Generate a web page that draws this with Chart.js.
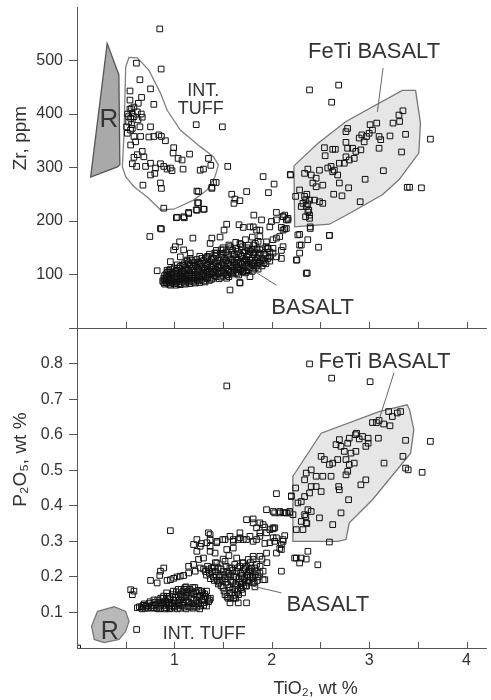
<!DOCTYPE html>
<html>
<head>
<meta charset="utf-8">
<script src="https://cdn.jsdelivr.net/npm/chart.js@4.4.1/dist/chart.umd.min.js"></script>
<style>
  html, body { margin: 0; padding: 0; background: #fff; }
  #wrap { position: relative; width: 491px; height: 700px; }
  canvas { position: absolute; left: 0; }
  #zrChart { top: 0; }
  #pChart { top: 320px; }
</style>
</head>
<body>
<div id="wrap">
  <canvas id="zrChart" width="491" height="336"></canvas>
  <canvas id="pChart" width="491" height="380"></canvas>
</div>
<script>
// ---- tick labels ----
const xTickLabels = [1, 2, 3, 4];
const zrTickLabels = [100, 200, 300, 400, 500];
const pTickLabels = [0.1, 0.2, 0.3, 0.4, 0.5, 0.6, 0.7, 0.8];

// ---- Zr vs TiO2 : [TiO2, Zr] ----
const zrTuff = [
  [0.85,559],[0.864,484],[0.61,495],[0.646,464],[0.755,447],[0.544,443],[0.789,418],[0.663,431],[0.544,426],
  [0.629,420],[0.585,413],[0.544,409],[0.568,401],[0.619,404],[0.66,400],[0.551,392],[0.585,395],[0.626,389],
  [0.67,394],[0.51,376],[0.568,373],[0.646,376],[0.755,376],[0.517,364],[0.585,358],[0.653,358],[0.738,357],
  [0.789,358],[0.84,361],[0.867,358],[0.908,350],[0.551,342],[0.602,348],[0.993,337],[0.619,324],[0.67,330],
  [0.585,319],[0.687,320],[0.987,327],[1.038,317],[1.079,314],[1.156,325],[0.568,307],[0.612,302],[0.704,302],
  [0.755,308],[0.806,299],[0.857,307],[0.891,302],[0.925,297],[0.959,299],[0.976,294],[1.089,297],[1.265,295],
  [1.299,297],[1.35,317],[1.374,304],[0.755,286],[0.799,289],[0.857,271],[0.867,261],[0.677,267],[1.248,255],
  [1.429,272],[1.385,261],[1.548,302],[1.224,380],[1.493,376],[0.891,224],[1.028,207],[1.095,208],[1.146,216],
  [1.232,220],[1.306,222],[1.248,234],[0.857,186],[0.748,171],[0.867,185],[0.52,400],[0.53,385],[0.56,380],
  [0.53,395],[0.56,410],[0.55,370]
];
const zrBasalt = [
  [1.401,272],[1.385,263],[1.231,256],[1.238,234],[1.224,221],[1.299,222],[1.02,206],[1.102,206],[1.146,214],
  [1.589,250],[1.622,241],[1.673,238],[1.612,233],[1.742,255],[1.911,283],[2.024,269],[1.966,253],[2.194,286],
  [1.816,211],[1.895,202],[1.997,199],[2.048,216],[2.133,211],[2.15,202],[2.099,188],[2.133,185],[2.268,174],
  [2.303,155],[2.252,127],[2.354,102],[2.286,140],[2.048,168],[2.099,145],[2.013,149],[1.946,161],[1.878,171],
  [1.844,183],[1.776,189],[1.707,188],[1.664,193],[1.537,194],[1.51,183],[1.469,170],[1.385,168],[1.367,158],
  [1.19,168],[1.054,161],[1.01,152],[0.993,146],[1.095,146],[1.163,140],[1.061,133],[1.129,127],[0.959,124],
  [0.925,108],[0.891,93],[0.976,87],[1.078,93],[1.197,93],[1.299,102],[1.401,105],[1.537,93],[1.673,85],
  [1.571,71],[1.707,105],[1.64,118],[1.776,115],[1.878,121],[1.98,133],[1.759,146],[1.673,158],[1.571,152],
  [1.503,146],[1.436,140],[1.334,133],[1.265,121],[1.197,115],[1.112,108],[1.027,102],[2.395,186],[2.37,165],
  [2.286,155],[2.48,151],[2.592,173],[2.258,127],[2.364,103],[2.116,183],[1.81,189],[1.878,183],[1.98,189],
  [2.048,202],[2.116,208],[2.167,202],[2.013,165],[2.082,171],[2.116,152],[2.013,140],[1.962,149],[1.878,146],
  [1.81,140],[1.911,127],[1.742,127],[2.048,133],[2.099,130],[1.776,96],[1.673,84],[0.823,107],[0.891,85]
];
const zrBasaltCore = [
  [0.90,82],[0.90,90],[0.90,98],[0.93,85],[0.93,95],[0.93,104],[0.96,80],[0.96,88],[0.96,100],[0.96,110],
  [1.00,83],[1.00,92],[1.00,101],[1.00,112],[1.03,86],[1.03,96],[1.03,108],[1.03,118],[1.06,81],[1.06,90],
  [1.06,99],[1.06,115],[1.10,84],[1.10,94],[1.10,105],[1.10,120],[1.13,88],[1.13,98],[1.13,110],[1.13,125],
  [1.16,83],[1.16,93],[1.16,103],[1.16,118],[1.16,130],[1.20,86],[1.20,97],[1.20,108],[1.20,122],[1.23,90],
  [1.23,100],[1.23,114],[1.23,128],[1.26,85],[1.26,95],[1.26,106],[1.26,119],[1.26,134],[1.30,88],[1.30,99],
  [1.30,112],[1.30,126],[1.33,92],[1.33,104],[1.33,117],[1.33,131],[1.36,89],[1.36,100],[1.36,110],[1.36,124],
  [1.36,138],[1.40,93],[1.40,105],[1.40,116],[1.40,130],[1.43,96],[1.43,108],[1.43,121],[1.43,136],[1.43,145],
  [1.46,92],[1.46,103],[1.46,114],[1.46,127],[1.50,97],[1.50,110],[1.50,123],[1.50,138],[1.50,150],[1.53,100],
  [1.53,112],[1.53,126],[1.53,142],[1.56,96],[1.56,106],[1.56,118],[1.56,133],[1.56,155],[1.60,101],[1.60,114],
  [1.60,128],[1.60,145],[1.63,104],[1.63,117],[1.63,131],[1.63,148],[1.63,160],[1.66,99],[1.66,110],[1.66,123],
  [1.66,139],[1.70,106],[1.70,119],[1.70,134],[1.70,152],[1.73,103],[1.73,115],[1.73,128],[1.73,144],[1.73,165],
  [1.76,109],[1.76,122],[1.76,137],[1.76,155],[1.80,106],[1.80,118],[1.80,131],[1.80,147],[1.80,170],[1.83,112],
  [1.83,126],[1.83,141],[1.83,158],[1.86,110],[1.86,123],[1.86,138],[1.86,162],[1.90,116],[1.90,130],[1.90,148],
  [1.94,120],[1.94,135],[1.94,152],[1.98,125],[1.98,142]
];
const zrBasaltCore2 = [
  [0.88,88],[0.915,84],[0.915,93],[0.915,101],[0.945,82],[0.945,91],[0.945,99],[0.945,107],[0.975,85],[0.975,94],
  [0.975,104],[1.015,80],[1.015,88],[1.015,97],[1.015,106],[1.045,83],[1.045,92],[1.045,102],[1.045,112],[1.08,87],
  [1.08,96],[1.08,106],[1.08,117],[1.115,82],[1.115,91],[1.115,100],[1.115,113],[1.145,86],[1.145,96],[1.145,107],
  [1.145,122],[1.18,89],[1.18,99],[1.18,111],[1.18,126],[1.215,84],[1.215,93],[1.215,104],[1.215,117],[1.245,88],
  [1.245,98],[1.245,110],[1.245,123],[1.28,91],[1.28,102],[1.28,115],[1.28,130],[1.315,86],[1.315,96],[1.315,108],
  [1.315,121],[1.345,94],[1.345,106],[1.345,119],[1.345,134],[1.38,91],[1.38,103],[1.38,115],[1.38,128],[1.415,98],
  [1.415,110],[1.415,123],[1.415,140],[1.445,101],[1.445,113],[1.445,126],[1.48,95],[1.48,106],[1.48,118],[1.48,132],
  [1.48,146],[1.515,103],[1.515,116],[1.515,130],[1.545,99],[1.545,109],[1.545,121],[1.545,136],[1.58,104],[1.58,116],
  [1.58,129],[1.58,148],[1.615,108],[1.615,122],[1.615,137],[1.645,102],[1.645,114],[1.645,127],[1.645,143],[1.68,108],
  [1.68,121],[1.68,136],[1.68,156],[1.715,112],[1.715,125],[1.715,141],[1.745,107],[1.745,119],[1.745,133],[1.745,150],
  [1.78,113],[1.78,127],[1.78,143],[1.815,110],[1.815,122],[1.815,137],[1.815,155],[1.85,117],[1.85,131],[1.85,148],
  [1.88,125],[1.88,140],[1.92,122],[1.92,138],[1.96,130],[1.96,148]
];
const zrFeti = [
  [2.388,445],[2.687,454],[2.615,422],[3.629,353],[3.391,263],[3.415,263],[3.537,262],[3.347,406],[3.306,398],
  [3.313,386],[3.245,383],[3.374,362],[3.214,359],[3.102,358],[3.119,352],[3.102,336],[3.078,383],[3.01,380],
  [3.0,364],[2.973,358],[2.925,361],[2.949,348],[2.915,333],[2.864,330],[2.83,336],[2.779,336],[2.762,347],
  [2.779,373],[2.653,334],[2.626,334],[2.541,337],[2.548,322],[2.762,320],[2.796,314],[2.745,308],[2.847,317],
  [2.694,308],[2.609,302],[2.575,299],[2.49,295],[2.643,295],[2.677,286],[2.626,292],[2.694,271],[2.524,267],
  [2.456,280],[2.405,286],[2.371,297],[2.337,289],[2.422,271],[2.456,264],[2.286,258],[2.245,246],[2.337,246],
  [2.32,233],[2.388,239],[2.439,239],[2.49,236],[2.524,233],[2.303,227],[2.354,227],[2.371,217],[2.388,211],
  [2.347,208],[2.388,205],[2.19,287],[2.789,262],[2.636,250],[2.721,247],[2.908,236],[2.959,278],[3.146,294],
  [3.333,329],[2.395,189],[2.592,173],[2.286,175],[2.15,186],[2.116,208],[2.166,205],[2.762,367],[2.898,355],
  [3.034,370],[2.35,240],[2.37,232],[2.38,220],[2.36,250]
];
const rFieldZr = [[0.31,532],[0.43,473],[0.44,305],[0.415,301],[0.14,282]];
const tuffFieldZr = [
  [0.534,506],[0.619,505],[0.738,482],[0.857,439],[0.926,407],[1.061,370],[1.265,339],[1.401,320],[1.452,305],
  [1.418,283],[1.334,258],[1.197,239],[0.993,222],[0.857,221],[0.721,245],[0.585,264],[0.5,283],[0.466,301],
  [0.483,364],[0.5,488]
];
const fetiFieldZr = [
  [2.228,303],[2.472,345],[2.762,386],[3.34,444],[3.477,444],[3.527,383],[3.51,327],[3.306,277],[3.136,249],
  [2.796,214],[2.592,194],[2.235,189]
];

// ---- P2O5 vs TiO2 : [TiO2, P2O5] ----
const pTuff = [
  [0.007,0.0],[0.612,0.052],[0.551,0.164],[0.585,0.16],[0.568,0.15],[0.755,0.19],[0.823,0.183],[0.857,0.216],
  [0.891,0.225],[0.85,0.204],[0.925,0.19],[0.959,0.192],[0.993,0.196],[1.027,0.2],[1.061,0.202],[1.095,0.204],
  [0.959,0.33],[0.62,0.113],[0.66,0.115],[0.68,0.12],[0.70,0.112],[0.72,0.118],[0.74,0.125],[0.76,0.113],
  [0.78,0.12],[0.8,0.128],[0.82,0.112],[0.83,0.135],[0.85,0.118],[0.87,0.126],[0.88,0.14],[0.9,0.11],
  [0.91,0.132],[0.93,0.145],[0.94,0.12],[0.96,0.138],[0.97,0.112],[0.98,0.15],[1.0,0.127],[1.01,0.142],
  [1.02,0.158],[1.03,0.11],[1.05,0.134],[1.06,0.15],[1.07,0.165],[1.08,0.12],[1.1,0.142],[1.11,0.17],
  [1.12,0.11],[1.13,0.155],[1.15,0.128],[1.16,0.165],[1.17,0.14],[1.19,0.112],[1.2,0.152],[1.21,0.17],
  [1.22,0.125],[1.24,0.145],[1.25,0.162],[1.26,0.11],[1.28,0.135],[1.29,0.155],[1.3,0.12],[1.32,0.145],
  [1.33,0.16],[1.35,0.13],[1.37,0.14],[1.0,0.115],[1.14,0.118],[0.95,0.128],[1.09,0.158],[1.18,0.16],[1.27,0.148]
];
const pTuffCore = [
  [0.64,0.116],[0.67,0.11],[0.69,0.124],[0.71,0.118],[0.73,0.112],[0.75,0.13],[0.77,0.118],[0.79,0.112],[0.79,0.135],
  [0.81,0.122],[0.84,0.128],[0.84,0.11],[0.86,0.14],[0.86,0.112],[0.89,0.12],[0.89,0.146],[0.92,0.113],[0.92,0.125],
  [0.92,0.155],[0.95,0.145],[0.95,0.11],[0.97,0.125],[0.99,0.135],[0.99,0.16],[1.01,0.118],[1.04,0.125],[1.04,0.145],
  [1.04,0.165],[1.06,0.112],[1.07,0.138],[1.09,0.128],[1.1,0.115],[1.1,0.165],[1.12,0.135],[1.12,0.148],[1.14,0.16],
  [1.14,0.13],[1.16,0.115],[1.17,0.152],[1.18,0.125],[1.19,0.17],[1.2,0.135],[1.22,0.158],[1.23,0.115],[1.23,0.135],
  [1.25,0.125],[1.26,0.145],[1.27,0.118],[1.28,0.16],[1.3,0.138],[1.31,0.128],[1.31,0.152],[1.33,0.118],[1.34,0.14],
  [1.36,0.135],[1.12,0.172],[1.08,0.145],[0.98,0.118],[0.88,0.128],[1.05,0.12],[1.2,0.118]
];
const pBasalt = [
  [1.146,0.23],[1.197,0.235],[1.248,0.249],[1.299,0.253],[1.367,0.272],[1.418,0.267],[1.367,0.286],[1.265,0.286],
  [1.197,0.291],[1.231,0.272],[1.333,0.296],[1.436,0.296],[1.52,0.305],[1.605,0.3],[1.673,0.31],[1.741,0.305],
  [1.809,0.3],[1.878,0.314],[1.946,0.324],[2.014,0.335],[1.911,0.347],[1.809,0.352],[1.741,0.361],[1.844,0.338],
  [1.98,0.296],[2.048,0.31],[2.099,0.291],[2.099,0.216],[2.133,0.316],[2.15,0.38],[1.946,0.389],[2.014,0.384],
  [2.082,0.384],[2.218,0.375],[1.35,0.324],[1.538,0.277],[1.605,0.281],[1.64,0.253],[1.707,0.239],[1.758,0.249],
  [1.809,0.258],[1.844,0.235],[1.911,0.216],[1.929,0.192],[1.827,0.172],[1.52,0.244],[1.436,0.239],[1.265,0.225],
  [1.214,0.216],[1.146,0.211],[1.538,0.737],[1.231,0.305],[1.276,0.294],[1.367,0.305],[1.436,0.3],[1.497,0.305],
  [1.571,0.314],[1.605,0.305],[1.656,0.305],[1.367,0.319],[1.673,0.324],[1.571,0.127],[1.656,0.127],[2.048,0.434],
  [2.201,0.428],[2.116,0.381],[2.184,0.38],[1.809,0.363],[1.878,0.352],[1.929,0.34],[1.98,0.333],[2.031,0.338],
  [1.878,0.324],[1.776,0.314],[1.707,0.305],[1.844,0.305],[1.929,0.294],[2.014,0.31],[2.116,0.305],[2.099,0.277],
  [2.048,0.267],[1.946,0.267],[1.878,0.258],[1.809,0.249],[1.741,0.23],[1.827,0.225],[1.878,0.211],[1.911,0.192],
  [1.809,0.183],[1.741,0.174],[2.235,0.253],[2.286,0.239],[2.371,0.272],[2.473,0.234],[1.741,0.127],[2.03,0.38],
  [2.082,0.38],[2.133,0.38],[2.184,0.384],[2.013,0.338],[2.116,0.3],[2.03,0.3],[2.082,0.28],[2.252,0.253],
  [2.303,0.253],[2.354,0.25]
];
const pBasaltCore = [
  [1.32,0.215],[1.36,0.21],[1.38,0.225],[1.4,0.2],[1.42,0.215],[1.44,0.19],[1.45,0.225],[1.47,0.205],[1.48,0.175],
  [1.5,0.215],[1.51,0.16],[1.52,0.195],[1.53,0.23],[1.54,0.145],[1.55,0.178],[1.56,0.21],[1.57,0.155],[1.58,0.19],
  [1.59,0.225],[1.6,0.165],[1.61,0.2],[1.62,0.148],[1.63,0.18],[1.64,0.215],[1.65,0.16],[1.66,0.195],[1.67,0.23],
  [1.68,0.17],[1.69,0.205],[1.7,0.185],[1.72,0.22],[1.73,0.175],[1.74,0.2],[1.76,0.215],[1.77,0.19],[1.79,0.225],
  [1.8,0.2],[1.82,0.185],[1.84,0.215],[1.86,0.2],[1.58,0.14],[1.46,0.185],[1.62,0.235],[1.7,0.24],[1.78,0.24],
  [1.88,0.23],[1.9,0.25],[1.95,0.24],[1.34,0.23],[1.42,0.24],[1.5,0.25],[1.56,0.26],
  [1.3,0.222],[1.33,0.205],[1.35,0.22],[1.37,0.195],[1.39,0.215],[1.41,0.228],[1.41,0.19],[1.43,0.205],[1.45,0.18],
  [1.46,0.2],[1.48,0.222],[1.49,0.19],[1.5,0.17],[1.51,0.205],[1.52,0.15],[1.53,0.185],[1.54,0.215],[1.55,0.14],
  [1.55,0.2],[1.57,0.17],[1.57,0.225],[1.58,0.205],[1.59,0.155],[1.6,0.185],[1.6,0.218],[1.61,0.14],[1.62,0.165],
  [1.63,0.2],[1.64,0.175],[1.65,0.225],[1.66,0.15],[1.67,0.185],[1.68,0.21],[1.69,0.165],[1.7,0.2],[1.71,0.175],
  [1.72,0.195],[1.73,0.225],[1.74,0.185],[1.75,0.205],[1.77,0.22],[1.78,0.2],[1.8,0.215],[1.81,0.195],[1.83,0.205],
  [1.85,0.19],[1.63,0.14],[1.7,0.155]
];
const pFeti = [
  [2.388,0.799],[2.615,0.759],[3.01,0.749],[3.629,0.581],[3.374,0.506],[3.401,0.501],[3.544,0.494],[3.374,0.584],
  [3.347,0.539],[3.323,0.665],[3.289,0.661],[3.238,0.651],[3.214,0.625],[3.102,0.64],[3.034,0.634],[3.075,0.634],
  [3.095,0.59],[2.99,0.59],[2.932,0.595],[2.898,0.588],[2.871,0.604],[2.796,0.59],[2.78,0.576],[2.694,0.586],
  [2.711,0.567],[2.66,0.572],[2.745,0.553],[2.813,0.548],[2.864,0.553],[2.966,0.567],[2.99,0.576],[2.762,0.53],
  [2.796,0.516],[2.847,0.52],[2.78,0.497],[2.762,0.487],[2.677,0.53],[2.626,0.52],[2.541,0.53],[2.507,0.539],
  [2.592,0.516],[2.609,0.483],[2.524,0.483],[2.456,0.483],[2.405,0.501],[2.354,0.492],[2.337,0.473],[2.456,0.454],
  [2.507,0.44],[2.405,0.454],[2.388,0.436],[2.337,0.426],[2.303,0.412],[2.269,0.408],[2.245,0.45],[2.201,0.426],
  [2.371,0.389],[2.405,0.384],[2.337,0.375],[2.303,0.356],[2.354,0.352],[2.32,0.333],[2.252,0.333],[2.49,0.366],
  [2.626,0.347],[2.711,0.38],[2.789,0.417],[2.687,0.454],[2.694,0.445],[2.915,0.459],[2.966,0.473],[3.153,0.52],
  [2.592,0.298],[3.2,0.665],[3.15,0.63],[2.86,0.6],[2.36,0.35],[2.35,0.37]
];
const rFieldP = [[0.211,0.103],[0.381,0.116],[0.5,0.103],[0.534,0.075],[0.5,0.047],[0.432,0.024],[0.279,0.015],[0.177,0.024],[0.15,0.061]];
const fetiFieldP = [
  [2.217,0.483],[2.507,0.604],[3.102,0.665],[3.391,0.684],[3.415,0.67],[3.459,0.614],[3.426,0.548],[3.034,0.417],
  [2.796,0.352],[2.762,0.305],[2.677,0.3],[2.217,0.3]
];

const FONT = '"Liberation Sans", Arial, Helvetica, sans-serif';
const INK = '#333';
const AXIS = '#555';

const toXY = arr => arr.map(([x, y]) => ({ x, y }));
const pointSet = arr => ({
  data: toXY(arr),
  pointStyle: 'rect',
  pointRadius: 4,
  borderWidth: 1,
  borderColor: '#111',
  backgroundColor: 'rgba(0,0,0,0)'
});

// draws shaded fields, leaders, labels and inward x ticks
function decor(cfg) {
  return {
    id: 'decor',
    beforeDatasetsDraw(chart) {
      const { ctx, scales: { x, y } } = chart;
      cfg.fields.forEach(f => {
        ctx.save();
        ctx.beginPath();
        f.pts.forEach(([vx, vy], i) => {
          const px = x.getPixelForValue(vx), py = y.getPixelForValue(vy);
          i ? ctx.lineTo(px, py) : ctx.moveTo(px, py);
        });
        ctx.closePath();
        if (f.fill) { ctx.fillStyle = f.fill; ctx.fill(); }
        ctx.strokeStyle = f.stroke;
        ctx.lineWidth = 1.3;
        ctx.stroke();
        ctx.restore();
      });
    },
    afterDraw(chart) {
      const { ctx, chartArea: a, scales: { x, y } } = chart;
      ctx.save();
      // inward ticks
      ctx.strokeStyle = AXIS;
      ctx.lineWidth = 1;
      x.ticks.forEach(t => {
        const px = Math.round(x.getPixelForValue(t.value)) + 0.5;
        ctx.beginPath();
        ctx.moveTo(px, a.bottom);
        ctx.lineTo(px, a.bottom - 6);
        ctx.stroke();
      });
      // leader lines
      ctx.strokeStyle = '#666';
      cfg.leaders.forEach(([x1, y1, x2, y2]) => {
        ctx.beginPath();
        ctx.moveTo(x.getPixelForValue(x1), y.getPixelForValue(y1));
        ctx.lineTo(x.getPixelForValue(x2), y.getPixelForValue(y2));
        ctx.stroke();
      });
      // labels
      ctx.fillStyle = INK;
      ctx.textAlign = 'center';
      ctx.textBaseline = 'alphabetic';
      cfg.labels.forEach(l => {
        ctx.font = l.size + 'px ' + FONT;
        ctx.fillText(l.text, x.getPixelForValue(l.x), y.getPixelForValue(l.y));
      });
      // axis titles
      ctx.textBaseline = 'middle';
      ctx.font = '19px ' + FONT;
      if (cfg.yTitle) {
        ctx.save();
        ctx.translate(a.left - 56, y.getPixelForValue(cfg.yTitle.at));
        ctx.rotate(-Math.PI / 2);
        ctx.fillText(cfg.yTitle.text, 0, 0);
        ctx.restore();
      }
      if (cfg.xTitle) {
        ctx.font = '18px ' + FONT;
        ctx.fillText(cfg.xTitle.text, x.getPixelForValue(cfg.xTitle.at), a.bottom + 41);
      }
      ctx.restore();
    }
  };
}

function makeChart(id, sets, yOpts, showX, extra) {
  return new Chart(document.getElementById(id), {
    type: 'scatter',
    data: { datasets: sets.map(pointSet) },
    options: {
      responsive: false,
      animation: false,
      events: [],
      layout: { padding: { top: showX ? 8 : 7, right: 4, bottom: showX ? 0 : 8, left: 0 } },
      plugins: { legend: { display: false }, tooltip: { enabled: false } },
      scales: {
        x: {
          type: 'linear', min: 0, max: 4.2,
          afterBuildTicks: s => { s.ticks = [0, 0.5, 1, 1.5, 2, 2.5, 3, 3.5, 4].map(v => ({ value: v })); },
          afterFit: s => { s.height = showX ? 52 : 0; s.paddingLeft = 0; s.paddingRight = 0; },
          border: { display: true, color: AXIS, width: 1 },
          grid: { display: false, drawTicks: false },
          ticks: {
            display: showX, padding: 3, color: INK, autoSkip: false, maxRotation: 0,
            font: { family: FONT, size: 16 },
            callback: v => xTickLabels.includes(v) ? String(v) : ''
          }
        },
        y: Object.assign({
          type: 'linear',
          afterFit: s => { s.width = 77; s.paddingTop = 0; s.paddingBottom = 0; },
          border: { display: true, color: AXIS, width: 1 },
          grid: { display: true, drawOnChartArea: false, drawTicks: true, tickLength: 8, color: AXIS, tickColor: AXIS },
        }, yOpts)
      }
    },
    plugins: [decor(extra)]
  });
}

makeChart('zrChart', [zrTuff, zrBasaltCore, zrBasaltCore2, zrBasalt, zrFeti], {
  min: 0, max: 600,
  ticks: {
    stepSize: 100, padding: 6, color: INK, font: { family: FONT, size: 16 },
    callback: v => zrTickLabels.includes(v) ? String(v) : null
  }
}, false, {
  fields: [
    { pts: rFieldZr, fill: '#a9a9a9', stroke: '#555' },
    { pts: tuffFieldZr, fill: null, stroke: '#808080' },
    { pts: fetiFieldZr, fill: '#e6e6e6', stroke: '#777' }
  ],
  leaders: [[3.143, 486, 3.085, 404], [2.048, 80, 1.742, 115]],
  labels: [
    { text: 'R', x: 0.327, y: 376, size: 26 },
    { text: 'INT.', x: 1.296, y: 434, size: 18 },
    { text: 'TUFF', x: 1.27, y: 400, size: 18 },
    { text: 'FeTi BASALT', x: 3.051, y: 504, size: 22 },
    { text: 'BASALT', x: 2.42, y: 27, size: 22 }
  ],
  yTitle: { text: 'Zr, ppm', at: 355 }
});

makeChart('pChart', [pTuff, pTuffCore, pBasaltCore, pBasalt, pFeti], {
  min: 0, max: 0.9,
  ticks: {
    stepSize: 0.1, padding: 6, color: INK, font: { family: FONT, size: 16 },
    callback: v => {
      const r = Math.round(v * 10) / 10;
      if (r === 0) return null;
      return pTickLabels.includes(r) ? r.toFixed(1) : '';
    }
  }
}, true, {
  fields: [
    { pts: rFieldP, fill: '#b9b9b9', stroke: '#777' },
    { pts: fetiFieldP, fill: '#e6e6e6', stroke: '#777' }
  ],
  leaders: [[3.255, 0.774, 3.102, 0.642], [2.099, 0.155, 1.806, 0.174]],
  labels: [
    { text: 'R', x: 0.337, y: 0.024, size: 25 },
    { text: 'INT. TUFF', x: 1.306, y: 0.024, size: 18 },
    { text: 'FeTi BASALT', x: 3.158, y: 0.788, size: 22 },
    { text: 'BASALT', x: 2.575, y: 0.103, size: 22 }
  ],
  yTitle: { text: 'P\u2082O\u2085, wt %', at: 0.53 },
  xTitle: { text: 'TiO\u2082, wt %', at: 2.45 }
});
</script>
</body>
</html>
